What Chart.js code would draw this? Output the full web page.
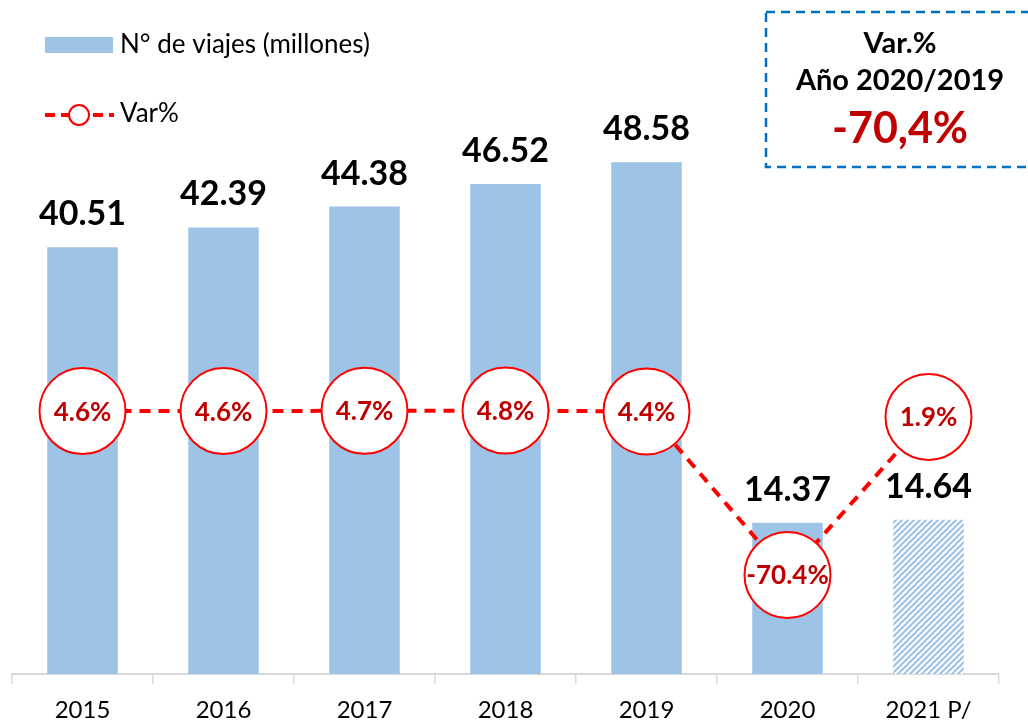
<!DOCTYPE html>
<html><head><meta charset="utf-8">
<script src="https://cdn.jsdelivr.net/npm/chart.js@4.4.1/dist/chart.umd.min.js"></script>
<style>html,body{margin:0;padding:0;background:#fff;}#wrap{width:1028px;height:726px;position:relative;}</style>
</head><body><div id="wrap"><canvas id="c" width="1028" height="726"></canvas></div>
<script>
const categories = ['2015', '2016', '2017', '2018', '2019', '2020', '2021 P/'];
const viajes = [40.51, 42.39, 44.38, 46.52, 48.58, 14.37, 14.64];
const viajesLabels = ['40.51', '42.39', '44.38', '46.52', '48.58', '14.37', '14.64'];
const varPct = [4.6, 4.6, 4.7, 4.8, 4.4, -70.4, 1.9];
const varLabels = ['4.6%', '4.6%', '4.7%', '4.8%', '4.4%', '-70.4%', '1.9%'];
const legendLabels = ['N° de viajes (millones)', 'Var%'];
const boxLines = ['Var.%', 'Año 2020/2019', '-70,4%'];

const FONT = 'Lato';
const BAR = '#9DC3E6';
const RED = '#FF0000';
const DARKRED = '#C00000';

function hatch() {
  const s = 6;
  const c = document.createElement('canvas');
  c.width = s; c.height = s;
  const g = c.getContext('2d');
  g.fillStyle = '#fff'; g.fillRect(0, 0, s, s);
  g.strokeStyle = BAR; g.lineWidth = 2.2;
  g.beginPath();
  g.moveTo(0, s); g.lineTo(s, 0);
  g.moveTo(-s / 2, s / 2); g.lineTo(s / 2, -s / 2);
  g.moveTo(s / 2, s * 1.5); g.lineTo(s * 1.5, s / 2);
  g.stroke();
  return g.createPattern(c, 'repeat');
}
const barColors = viajes.map((v, i) => i === viajes.length - 1 ? hatch() : BAR);

const decor = {
  id: 'decor',
  afterDatasetsDraw(chart) {
    const ctx = chart.ctx;
    ctx.save();
    ctx.textAlign = 'center';
    ctx.textBaseline = 'alphabetic';
    ctx.fillStyle = '#000';
    ctx.font = 'bold 34px ' + FONT;
    chart.getDatasetMeta(1).data.forEach((bar, i) => {
      ctx.fillText(viajesLabels[i], bar.x, bar.y - 22);
    });
    ctx.fillStyle = DARKRED;
    ctx.font = 'bold 26px ' + FONT;
    chart.getDatasetMeta(0).data.forEach((pt, i) => {
      ctx.fillText(varLabels[i], pt.x, pt.y + 9.5);
    });
    ctx.restore();
  },
  afterDraw(chart) {
    const ctx = chart.ctx;
    ctx.save();
    // legend
    ctx.fillStyle = BAR;
    ctx.fillRect(45, 37, 68, 16);
    ctx.fillStyle = '#000';
    ctx.font = '26px ' + FONT;
    ctx.textAlign = 'left';
    ctx.textBaseline = 'middle';
    ctx.fillText(legendLabels[0], 120, 45);
    ctx.fillText(legendLabels[1], 120, 114);
    ctx.strokeStyle = RED; ctx.lineWidth = 4; ctx.setLineDash([10, 6]);
    ctx.beginPath(); ctx.moveTo(45, 115); ctx.lineTo(114, 115); ctx.stroke();
    ctx.setLineDash([]);
    ctx.beginPath(); ctx.arc(79, 115, 10, 0, Math.PI * 2);
    ctx.fillStyle = '#fff'; ctx.fill();
    ctx.lineWidth = 2; ctx.strokeStyle = RED; ctx.stroke();
    // annotation box
    ctx.strokeStyle = '#0070C0'; ctx.lineWidth = 2.5; ctx.setLineDash([9, 6]);
    ctx.strokeRect(766, 12, 270, 155);
    ctx.setLineDash([]);
    ctx.textAlign = 'center';
    ctx.textBaseline = 'alphabetic';
    ctx.fillStyle = '#000';
    ctx.font = 'bold 29px ' + FONT;
    ctx.fillText(boxLines[0], 900, 53);
    ctx.fillText(boxLines[1], 900, 90);
    ctx.fillStyle = DARKRED;
    ctx.font = 'bold 43px ' + FONT;
    ctx.fillText(boxLines[2], 900, 143);
    ctx.restore();
  }
};

new Chart(document.getElementById('c'), {
  data: {
    labels: categories,
    datasets: [
      {
        type: 'line', label: legendLabels[1], data: varPct, yAxisID: 'y1', order: 0,
        borderColor: RED, borderWidth: 4, borderDash: [11, 8], fill: false, tension: 0,
        pointRadius: 43, pointHoverRadius: 43, pointBackgroundColor: '#fff',
        pointBorderColor: RED, pointBorderWidth: 2, clip: false
      },
      {
        type: 'bar', label: legendLabels[0], data: viajes, yAxisID: 'y', order: 1,
        backgroundColor: barColors, borderWidth: 0,
        barPercentage: 0.5, categoryPercentage: 1.0
      }
    ]
  },
  options: {
    responsive: false, animation: false, devicePixelRatio: 1,
    layout: { autoPadding: false, padding: { top: 42, left: 12, right: 29, bottom: 0 } },
    plugins: { legend: { display: false }, tooltip: { enabled: false } },
    scales: {
      x: {
        offset: true,
        grid: { offset: true, drawOnChartArea: false, drawTicks: true, tickLength: 10, color: '#D9D9D9', lineWidth: 1.5 },
        border: { display: true, color: '#D9D9D9', width: 2 },
        ticks: { font: { family: FONT, size: 24 }, color: '#000', padding: 12, maxRotation: 0, autoSkip: false },
        afterFit(scale) { scale.height = 52; scale.paddingLeft = 0; scale.paddingRight = 0; }
      },
      y: { display: false, min: 0, max: 60 },
      y1: { display: false, min: -115.7, max: 173.4 }
    }
  },
  plugins: [decor]
});
</script></body></html>
